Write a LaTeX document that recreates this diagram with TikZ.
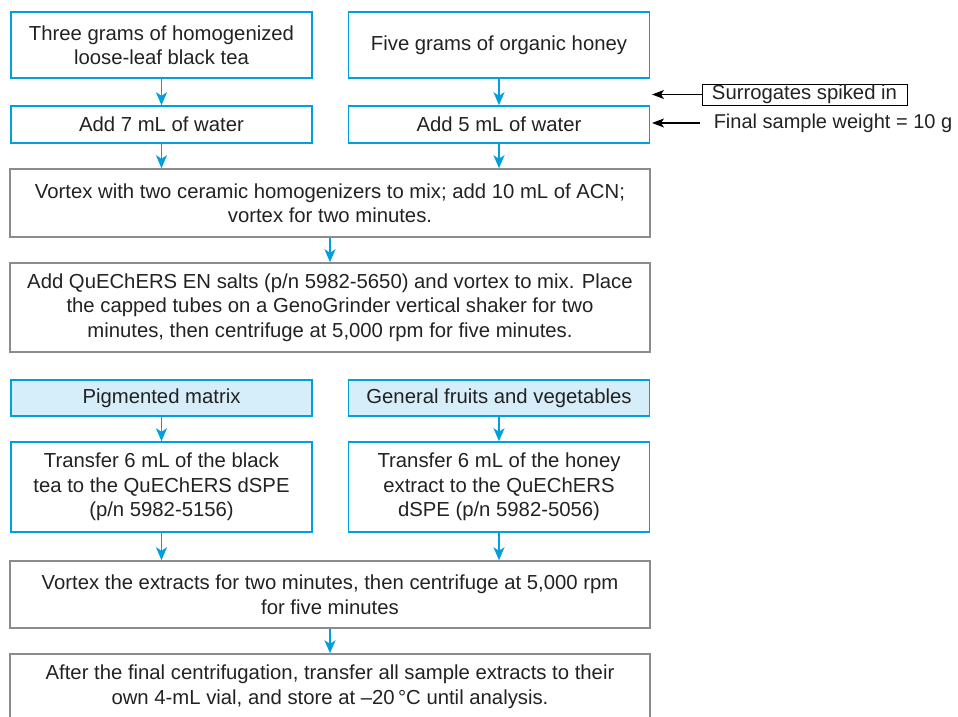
\documentclass[tikz,border=0pt]{standalone}
\usepackage{fontspec}
\setmainfont{Liberation Sans}
\usetikzlibrary{arrows.meta}
\definecolor{agblue}{RGB}{0,160,224}
\definecolor{agfill}{RGB}{214,237,250}
\definecolor{boxgray}{RGB}{140,140,140}
\definecolor{txt}{RGB}{34,34,34}
\begin{document}
\begin{tikzpicture}[x=1pt,y=-1pt,
  base/.style={rectangle, line width=1.5pt, inner sep=0pt, align=center, text=txt,
    font=\fontsize{20.3}{24.5}\selectfont},
  bluebox/.style={base, draw=agblue, minimum width=301pt},
  tintbox/.style={bluebox, fill=agfill},
  widebox/.style={base, draw=boxgray, minimum width=640pt},
  flow/.style={draw=agblue, line width=1.6pt, -{Stealth[length=13pt,width=11pt,inset=3.5pt]}},
  note/.style={draw=black, line width=1.2pt, -{Stealth[length=12pt,width=9pt,inset=3pt]}}
]
\useasboundingbox (0,0) rectangle (958,717);
\node[bluebox, minimum height=66pt] (tea) at (161.5,45) {Three grams of homogenized\\loose-leaf black tea};
\node[bluebox, minimum height=66pt] (honey) at (499,45) {Five grams of organic honey};
\node[bluebox, minimum height=37pt] (add7) at (161.5,124.5) {Add 7 mL of water};
\node[bluebox, minimum height=37pt] (add5) at (499,124.5) {Add 5 mL of water};
\node[widebox, minimum height=68pt] (vortex) at (330,203) {Vortex with two ceramic homogenizers to mix; add 10 mL of ACN;\\vortex for two minutes.};
\node[widebox, minimum height=89pt] (salts) at (330,307.5) {Add QuEChERS EN salts (p/n 5982-5650) and vortex to mix. Place\\the capped tubes on a GenoGrinder vertical shaker for two\\minutes, then centrifuge at 5,000 rpm for five minutes.};
\node[tintbox, minimum height=36pt] (pig) at (161.5,398) {Pigmented matrix};
\node[tintbox, minimum height=36pt] (gen) at (499,398) {General fruits and vegetables};
\node[bluebox, minimum height=90pt] (tr1) at (161.5,487) {Transfer 6 mL of the black\\tea to the QuEChERS dSPE\\(p/n 5982-5156)};
\node[bluebox, minimum height=90pt] (tr2) at (499,487) {Transfer 6 mL of the honey\\extract to the QuEChERS\\dSPE (p/n 5982-5056)};
\node[widebox, minimum height=67pt] (vort2) at (330,594.5) {Vortex the extracts for two minutes, then centrifuge at 5,000 rpm\\for five minutes};
\node[widebox, minimum height=86pt] (final) at (330,697) {After the final centrifugation, transfer all sample extracts to their\\own 4-mL vial, and store at \textendash20\,°C until analysis.\\\mbox{}};
\node[base, draw=black, line width=1pt, minimum width=205pt, minimum height=21pt] (surr) at (804.5,94.5) {Surrogates spiked in};
\node[base, anchor=west, font=\fontsize{20}{24.5}\selectfont] (weight) at (713,123) {Final sample weight = 10 g};
\coordinate (t1) at (652,94.5);
\coordinate (t2) at (652,123);
\draw[flow] (tea) -- (add7);
\draw[flow] (honey) -- (add5);
\draw[flow] (add7.south) -- (add7.south |- vortex.north);
\draw[flow] (add5.south) -- (add5.south |- vortex.north);
\draw[flow] (vortex) -- (salts);
\draw[flow] (pig) -- (tr1);
\draw[flow] (gen) -- (tr2);
\draw[flow] (tr1.south) -- (tr1.south |- vort2.north);
\draw[flow] (tr2.south) -- (tr2.south |- vort2.north);
\draw[flow] (vort2) -- (final.north);
\draw[note] (surr.west) -- (t1);
\draw[note, shorten <=13pt] (weight.west) -- (t2);
\end{tikzpicture}
\end{document}
